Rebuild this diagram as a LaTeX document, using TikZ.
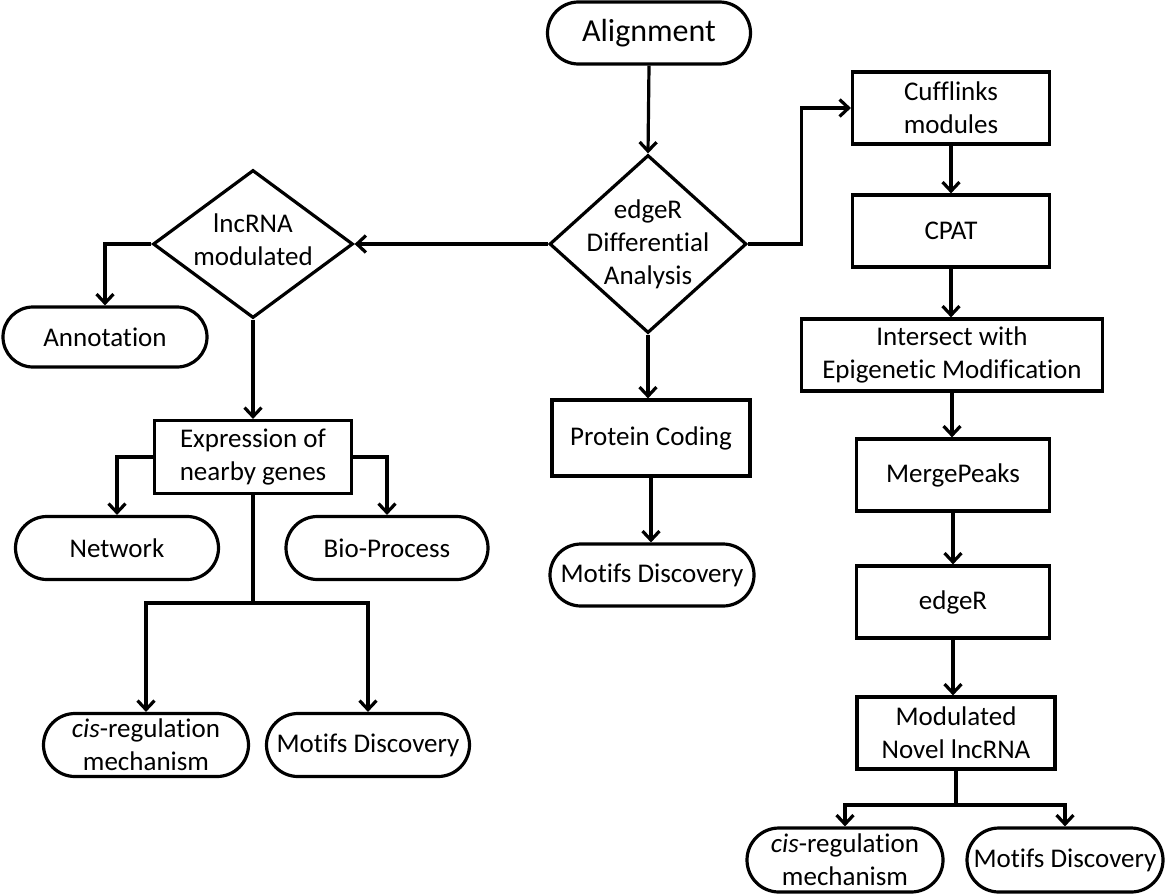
\documentclass[tikz,border=0pt]{standalone}
\usepackage{fontspec}
\setmainfont{Carlito}[Ligatures=NoCommon]
\usetikzlibrary{arrows.meta,shapes.geometric,shapes.misc}
\begin{document}
\begin{tikzpicture}[x=1pt,y=-1pt,
  every node/.style={font=\fontsize{27}{33}\selectfont, align=center, inner sep=0pt},
  lw/.style={line width=3.2pt},
  boxn/.style={draw, lw, rectangle, minimum width=#1, minimum height=72},
  stad/.style={draw, lw, rounded rectangle, minimum width=#1, minimum height=62},
  dia/.style={draw, lw, diamond},
  arr/.style={lw, -{Straight Barb[length=9pt,width=17pt,line width=3.2pt]}},
  ln/.style={lw}
]
\useasboundingbox (0,0) rectangle (1166,894);
% top
\node[stad=203, font=\fontsize{32}{36}\selectfont] (al) at (649,33) {Alignment};
\node[dia, minimum width=197, minimum height=178] (ed) at (648,244) {};
\node (edt) at (648,244) {edgeR\\Differential\\Analysis};
% right column
\node[boxn=197] (cuff) at (951,108) {Cufflinks\\modules};
\node[boxn=197] (cpat) at (951,231) {CPAT};
\node[boxn=301] (inter) at (952,355) {Intersect with\\Epigenetic Modification};
\node[boxn=193] (merge) at (953,475) {MergePeaks};
\node[boxn=193] (edr) at (953,602) {edgeR};
\node[boxn=198] (mod) at (956,733) {Modulated\\Novel lncRNA};
\node[stad=196, minimum height=64] (cisR) at (845,860) {\textit{cis}-regulation\\mechanism};
\node[stad=196, minimum height=64] (motR) at (1065,860) {Motifs Discovery};
% middle column
\node[boxn=198, minimum height=76] (pc) at (651,438) {Protein Coding};
\node[stad=204] (motM) at (652,575) {Motifs Discovery};
% left
\node[dia, minimum width=200, minimum height=148] (lm) at (253,244) {};
\node (lmt) at (253,240) {lncRNA\\modulated};
\node[stad=204, minimum height=60] (ann) at (105,337) {Annotation};
\node[boxn=197, minimum height=73] (ex) at (253,457) {Expression of\\nearby genes};
\node[stad=203, minimum height=63] (net) at (117,548) {Network};
\node[stad=202, minimum height=63] (bio) at (387,548) {Bio-Process};
\node[stad=205, minimum height=63] (cisL) at (146,745) {\textit{cis}-regulation\\mechanism};
\node[stad=203, minimum height=63] (motL) at (368,745) {Motifs Discovery};
% connectors
\draw[arr] (al.south) -- (ed.north);
\draw[arr] (ed.west) -- (lm.east);
\draw[arr] (ed.east) -- ++(53,0) |- (cuff.west);
\draw[arr] (cuff.south) -- (cuff.south |- cpat.north);
\draw[arr] (cpat.south) -- (cpat.south |- inter.north);
\draw[arr] (inter.south) -- (inter.south |- merge.north);
\draw[arr] (merge.south) -- (merge.south |- edr.north);
\draw[arr] (edr.south) -- (edr.south |- mod.north);
\coordinate (mb) at (956,805);
\draw[ln] (mod.south) -- (mb);
\draw[arr] (mb) -| (cisR.north);
\draw[arr] (mb) -| (motR.north);
\draw[arr] (ed.south) -- (ed.south |- pc.north);
\draw[arr] (pc.south) -- (pc.south |- motM.north);
\draw[arr] (lm.west) -| (ann.north);
\draw[arr] (lm.south) -- (lm.south |- ex.north);
\draw[arr] (ex.west) -| (net.north);
\draw[arr] (ex.east) -| (bio.north);
\coordinate (eb) at (253,603);
\draw[ln] (ex.south) -- (eb);
\draw[arr] (eb) -| (cisL.north);
\draw[arr] (eb) -| (motL.north);
\end{tikzpicture}
\end{document}
